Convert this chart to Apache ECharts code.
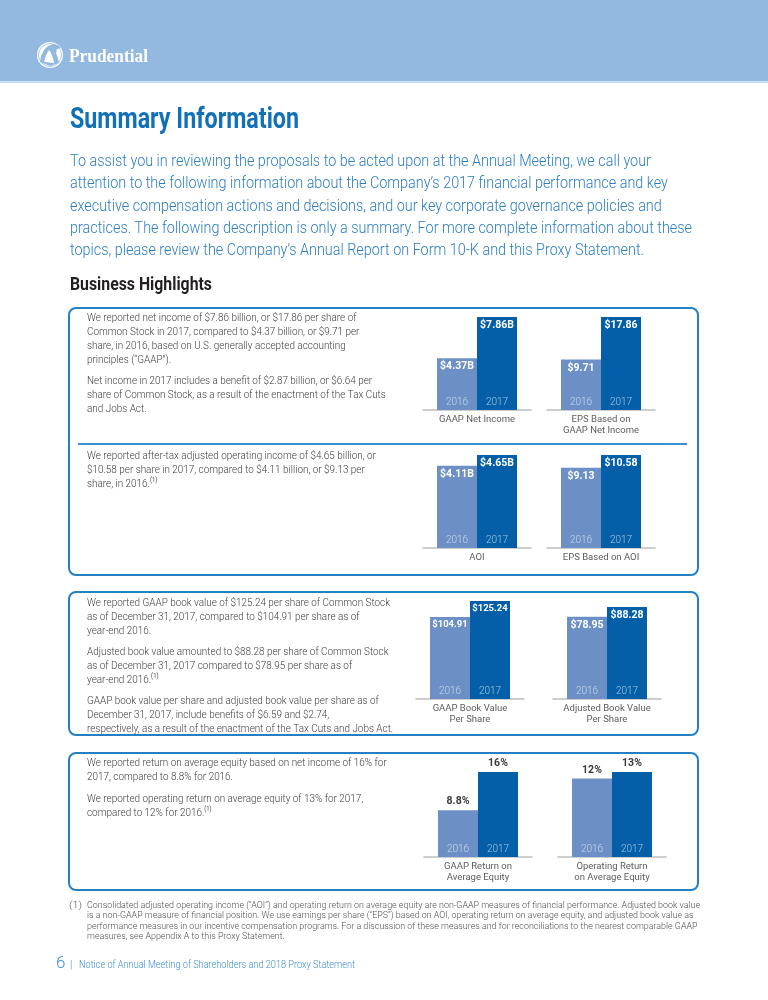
<!DOCTYPE html>
<html><head><meta charset="utf-8">
<script src="https://cdn.jsdelivr.net/npm/echarts@6/dist/echarts.min.js"></script>
<style>html,body{margin:0;padding:0;background:#fff}#c{width:768px;height:1000px}</style>
</head><body><div id="c"></div>
<script>
// ---------- data ----------
const years = ['2016', '2017'];
const gaapNetIncome = [4.37, 7.86];
const epsGaapNetIncome = [9.71, 17.86];
const aoi = [4.11, 4.65];
const epsAoi = [9.13, 10.58];
const gaapBookValue = [104.91, 125.24];
const adjustedBookValue = [78.95, 88.28];
const gaapRoe = [8.8, 16];
const operatingRoe = [12, 13];
const chartNames = ['GAAP Net Income', 'EPS Based on\nGAAP Net Income', 'AOI', 'EPS Based on AOI',
  'GAAP Book Value\nPer Share', 'Adjusted Book Value\nPer Share',
  'GAAP Return on\nAverage Equity', 'Operating Return\non Average Equity'];

// ---------- layout ----------
const LIGHT = '#6c90c6', DARK = '#045fa8';
const charts = [
  {data: gaapNetIncome, pre: '$', suf: 'B', barLeft: 437, top: 317, base: 410, pos: 'insideTop', fs: 10.5},
  {data: epsGaapNetIncome, pre: '$', suf: '', barLeft: 561, top: 317, base: 410, pos: 'insideTop', fs: 10.5},
  {data: aoi, pre: '$', suf: 'B', barLeft: 437, top: 455, base: 548, pos: 'insideTop', fs: 10.5},
  {data: epsAoi, pre: '$', suf: '', barLeft: 561, top: 455, base: 548, pos: 'insideTop', fs: 10.5},
  {data: gaapBookValue, pre: '$', suf: '', barLeft: 430, top: 601, base: 699, pos: 'insideTop', fs: 9.5},
  {data: adjustedBookValue, pre: '$', suf: '', barLeft: 567, top: 607, base: 699, pos: 'insideTop', fs: 10.5},
  {data: gaapRoe, pre: '', suf: '%', barLeft: 438, top: 772, base: 857, pos: 'top', fs: 10.5},
  {data: operatingRoe, pre: '', suf: '%', barLeft: 572, top: 772, base: 857, pos: 'top', fs: 10.5}
];

const grid = [], xAxis = [], yAxis = [], series = [];
charts.forEach((c, i) => {
  const gi = grid.length;
  grid.push({left: c.barLeft, top: c.top, width: 80, height: c.base - c.top});
  xAxis.push({
    type: 'category', gridIndex: gi, data: years, z: 10,
    axisLine: {show: false}, axisTick: {show: false},
    axisLabel: {inside: true, margin: 3, fontSize: 10, fontFamily: 'Roboto', fontWeight: 300,
      color: 'rgba(255,255,255,0.62)'},
    name: chartNames[i], nameLocation: 'middle', nameGap: 4,
    nameTextStyle: {color: '#5c5c5c', fontSize: 9.5, fontFamily: 'Roboto', lineHeight: 11, verticalAlign: 'top'}
  });
  yAxis.push({type: 'value', gridIndex: gi, min: 0, max: 'dataMax', show: false});
  series.push({
    type: 'bar', xAxisIndex: gi, yAxisIndex: gi, barCategoryGap: '0%',
    data: c.data.map((v, k) => ({value: v, itemStyle: {color: k ? DARK : LIGHT}})),
    label: {
      show: true, position: c.pos, distance: 3, fontSize: c.fs, fontWeight: 'bold', fontFamily: 'Roboto',
      color: c.pos === 'top' ? '#3a3a3a' : '#ffffff',
      formatter: p => c.pre + p.value + c.suf
    }
  });
  const ai = grid.length;
  grid.push({left: c.barLeft - 14, top: c.base - 10, width: 108, height: 10});
  xAxis.push({type: 'category', gridIndex: ai, data: years,
    axisLine: {lineStyle: {color: '#bdbdbd', width: 1.5}}, axisTick: {show: false}, axisLabel: {show: false}});
  yAxis.push({type: 'value', gridIndex: ai, show: false});
});

// ---------- text helpers ----------
const mctx = document.createElement('canvas').getContext('2d');
function txt(x, y, text, o) {
  const size = o.size, fam = o.family || 'Roboto', wt = o.weight || 'normal';
  let sx = 1;
  if (o.fit) {
    mctx.font = wt + ' ' + size + 'px "' + fam + '"';
    const w = mctx.measureText(o.fit[0]).width;
    if (w > 0) sx = o.fit[1] / w;
  }
  const style = {text: text, x: 0, y: 0, fontSize: size, fontFamily: fam, fontWeight: wt, fill: o.color,
    verticalAlign: o.va || 'top'};
  if (o.lh) style.lineHeight = o.lh;
  if (o.rich) style.rich = o.rich;
  return {type: 'text', x: x, y: y, scaleX: sx, silent: true, style: style};
}
const BODY = {size: 11, weight: 300, color: '#3d3d3d', lh: 14,
  fit: ['We reported GAAP book value of $125.24 per share of Common Stock', 303],
  rich: {s: {fontSize: 6.5, fontFamily: 'Roboto', fill: '#3d3d3d', verticalAlign: 'top', lineHeight: 9}}};

const graphics = [
  // header band
  {type: 'rect', shape: {x: 0, y: 0, width: 768, height: 81}, style: {fill: '#94b9e1'}, silent: true},
  {type: 'rect', shape: {x: 0, y: 81, width: 768, height: 2}, style: {fill: '#c9dcf0'}, silent: true},
  {type: 'circle', shape: {cx: 50, cy: 55, r: 13}, style: {fill: '#ffffff'}, silent: true},
  {type: 'circle', shape: {cx: 50, cy: 55, r: 11.5}, style: {fill: 'none', stroke: '#94b9e1', lineWidth: 0.8}, silent: true},
  {type: 'polygon', shape: {points: [[40, 62], [41, 56], [44, 50], [48, 46], [53, 44], [58, 45], [61, 48], [57, 49], [56, 53], [58, 58], [59, 63], [50, 66]]},
    style: {fill: '#94b9e1'}, silent: true},
  {type: 'polygon', shape: {points: [[44, 62], [46, 55], [49, 50], [51, 53], [53, 58], [54, 63]]}, style: {fill: '#ffffff'}, silent: true},
  txt(69, 57, 'Prudential', {size: 18, family: 'Liberation Serif', weight: 'bold', color: '#ffffff', va: 'middle', fit: ['Prudential', 79]}),
  // title & intro
  txt(70, 121, 'Summary Information', {size: 29, weight: 'bold', color: '#1170b8', va: 'middle', fit: ['Summary Information', 229]}),
  txt(70, 151, [
    'To assist you in reviewing the proposals to be acted upon at the Annual Meeting, we call your',
    'attention to the following information about the Company’s 2017 financial performance and key',
    'executive compensation actions and decisions, and our key corporate governance policies and',
    'practices. The following description is only a summary. For more complete information about these',
    'topics, please review the Company’s Annual Report on Form 10-K and this Proxy Statement.'
  ].join('\n'), {size: 16, weight: 300, color: '#2a7dc1', lh: 22.2,
    fit: ['practices. The following description is only a summary. For more complete information about these', 622]}),
  txt(70, 285, 'Business Highlights', {size: 19, weight: 'bold', color: '#231f20', va: 'middle', fit: ['Business Highlights', 142]}),
  // boxes
  {type: 'rect', shape: {x: 69, y: 308, width: 629, height: 267, r: 7}, style: {fill: 'none', stroke: '#2480c3', lineWidth: 2}, silent: true},
  {type: 'line', shape: {x1: 78, y1: 444, x2: 687, y2: 444}, style: {stroke: '#3a92cf', lineWidth: 2}, silent: true},
  {type: 'rect', shape: {x: 69, y: 592, width: 629, height: 143, r: 7}, style: {fill: 'none', stroke: '#2480c3', lineWidth: 2}, silent: true},
  {type: 'rect', shape: {x: 69, y: 753, width: 629, height: 137, r: 7}, style: {fill: 'none', stroke: '#2480c3', lineWidth: 2}, silent: true},
  // box 1
  txt(87, 311, [
    'We reported net income of $7.86 billion, or $17.86 per share of',
    'Common Stock in 2017, compared to $4.37 billion, or $9.71 per',
    'share, in 2016, based on U.S. generally accepted accounting',
    'principles (“GAAP”).'
  ].join('\n'), BODY),
  txt(87, 374, [
    'Net income in 2017 includes a benefit of $2.87 billion, or $6.64 per',
    'share of Common Stock, as a result of the enactment of the Tax Cuts',
    'and Jobs Act.'
  ].join('\n'), BODY),
  txt(87, 449, [
    'We reported after-tax adjusted operating income of $4.65 billion, or',
    '$10.58 per share in 2017, compared to $4.11 billion, or $9.13 per',
    'share, in 2016.{s|(1)}'
  ].join('\n'), BODY),
  // box 2
  txt(87, 596, [
    'We reported GAAP book value of $125.24 per share of Common Stock',
    'as of December 31, 2017, compared to $104.91 per share as of',
    'year-end 2016.'
  ].join('\n'), BODY),
  txt(87, 645, [
    'Adjusted book value amounted to $88.28 per share of Common Stock',
    'as of December 31, 2017 compared to $78.95 per share as of',
    'year-end 2016.{s|(1)}'
  ].join('\n'), BODY),
  txt(87, 694, [
    'GAAP book value per share and adjusted book value per share as of',
    'December 31, 2017, include benefits of $6.59 and $2.74,',
    'respectively, as a result of the enactment of the Tax Cuts and Jobs Act.'
  ].join('\n'), BODY),
  // box 3
  txt(87, 756, [
    'We reported return on average equity based on net income of 16% for',
    '2017, compared to 8.8% for 2016.'
  ].join('\n'), BODY),
  txt(87, 792, [
    'We reported operating return on average equity of 13% for 2017,',
    'compared to 12% for 2016.{s|(1)}'
  ].join('\n'), BODY),
  // footnote
  txt(69, 900.5, '(1)', {size: 9, weight: 300, color: '#505050', lh: 10.5, fit: ['(1)', 13]}),
  txt(87, 900.5, [
    'Consolidated adjusted operating income (“AOI”) and operating return on average equity are non-GAAP measures of financial performance. Adjusted book value',
    'is a non-GAAP measure of financial position. We use earnings per share (“EPS”) based on AOI, operating return on average equity, and adjusted book value as',
    'performance measures in our incentive compensation programs. For a discussion of these measures and for reconciliations to the nearest comparable GAAP',
    'measures, see Appendix A to this Proxy Statement.'
  ].join('\n'), {size: 9, weight: 300, color: '#505050', lh: 10.4,
    fit: ['Consolidated adjusted operating income (“AOI”) and operating return on average equity are non-GAAP measures of financial performance. Adjusted book value', 613]}),
  // footer
  txt(56, 964, '6', {size: 17, weight: 300, color: '#3b8dcd', va: 'middle'}),
  txt(70, 965, '|', {size: 10, weight: 300, color: '#3b8dcd', va: 'middle'}),
  txt(79, 965, 'Notice of Annual Meeting of Shareholders and 2018 Proxy Statement', {size: 10, weight: 300, color: '#3b8dcd', va: 'middle',
    fit: ['Notice of Annual Meeting of Shareholders and 2018 Proxy Statement', 276]})
];

const chart = echarts.init(document.getElementById('c'), null, {renderer: 'canvas'});
chart.setOption({
  animation: false,
  backgroundColor: '#ffffff',
  grid: grid, xAxis: xAxis, yAxis: yAxis, series: series,
  graphic: {elements: graphics}
});
</script>
</body></html>
